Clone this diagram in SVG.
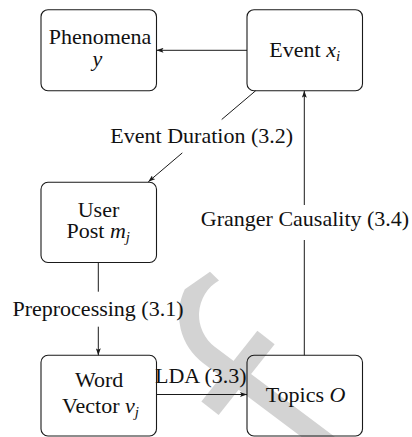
<svg xmlns="http://www.w3.org/2000/svg" width="412" height="437" viewBox="0 0 412 437">
<defs>
<marker id="arr" viewBox="0 0 7 5" refX="7" refY="2.5" markerWidth="7" markerHeight="5" orient="auto" markerUnits="userSpaceOnUse">
<path d="M0,0 L7,2.5 L0,5 L1.5,2.5 z" fill="#1a1a1a"/>
</marker>
</defs>
<rect width="412" height="437" fill="#fff"/>
<g id="watermark" fill="#d3d3d3">
<path d="M184.8,289.2 A60,60 0 0 0 203,363 L312.3,445 L345.7,445 L215,347 A40,40 0 0 1 219,280.4 L210,271.7 Z"/>
<line x1="266" y1="337.5" x2="210" y2="408.3" stroke="#d3d3d3" stroke-width="22"/>
</g>
<g id="connectors">
<g fill="none" stroke="#1a1a1a" stroke-width="1">
<line x1="247" y1="50.3" x2="156.5" y2="50.3" marker-end="url(#arr)"/>
<line x1="255.7" y1="90.7" x2="221.7" y2="119.5"/>
<line x1="182.3" y1="152.9" x2="148.3" y2="181.8" marker-end="url(#arr)"/>
<line x1="304.3" y1="355.3" x2="304.3" y2="240"/>
<line x1="304.3" y1="205" x2="304.3" y2="90.7" marker-end="url(#arr)"/>
<line x1="98.3" y1="262.5" x2="98.3" y2="291.7"/>
<line x1="98.3" y1="326.7" x2="98.3" y2="355.3" marker-end="url(#arr)"/>
<line x1="156.5" y1="394.5" x2="247" y2="394.5" marker-end="url(#arr)"/>
</g>
<text id="label-duration" x="201.7" y="142.7" font-family="Liberation Serif" font-size="22" fill="#111" text-anchor="middle">Event Duration (3.2)</text>
<text id="label-granger" x="305" y="226" font-family="Liberation Serif" font-size="22" fill="#111" text-anchor="middle">Granger Causality (3.4)</text>
<text id="label-pre" x="98" y="315.7" font-family="Liberation Serif" font-size="22" fill="#111" text-anchor="middle">Preprocessing (3.1)</text>
<text id="label-lda" x="200.8" y="382.7" font-family="Liberation Serif" font-size="22" fill="#111" text-anchor="middle">LDA (3.3)</text>
</g>
<g id="node-phenomena">
<rect x="41" y="9.7" width="115.5" height="81" rx="7" fill="none" stroke="#1a1a1a" stroke-width="1.1"/>
<text x="100" y="44.3" font-family="Liberation Serif" font-size="22" fill="#111" text-anchor="middle">Phenomena</text>
<text x="97.5" y="66" font-family="Liberation Serif" font-size="22" fill="#111" text-anchor="middle" font-style="italic">y</text>
</g>
<g id="node-event">
<rect x="247" y="9.7" width="115.5" height="81" rx="7" fill="none" stroke="#1a1a1a" stroke-width="1.1"/>
<text x="304.7" y="57.3" font-family="Liberation Serif" font-size="22" fill="#111" text-anchor="middle">Event <tspan font-style="italic">x</tspan><tspan font-style="italic" font-size="15" dy="4">i</tspan></text>
</g>
<g id="node-user">
<rect x="41" y="182.3" width="115.5" height="80.2" rx="7" fill="none" stroke="#1a1a1a" stroke-width="1.1"/>
<text x="98.5" y="216.7" font-family="Liberation Serif" font-size="22" fill="#111" text-anchor="middle">User</text>
<text x="98.3" y="238.3" font-family="Liberation Serif" font-size="22" fill="#111" text-anchor="middle">Post <tspan font-style="italic">m</tspan><tspan font-style="italic" font-size="15" dy="4">j</tspan></text>
</g>
<g id="node-word">
<rect x="41" y="355.3" width="115.5" height="80.7" rx="7" fill="none" stroke="#1a1a1a" stroke-width="1.1"/>
<text x="99.2" y="387.3" font-family="Liberation Serif" font-size="22" fill="#111" text-anchor="middle">Word</text>
<text x="100.5" y="413.3" font-family="Liberation Serif" font-size="22" fill="#111" text-anchor="middle">Vector <tspan font-style="italic">v</tspan><tspan font-style="italic" font-size="15" dy="4">j</tspan></text>
</g>
<g id="node-topics">
<rect x="247" y="355.3" width="115.5" height="80.7" rx="7" fill="none" stroke="#1a1a1a" stroke-width="1.1"/>
<text x="305.5" y="401.7" font-family="Liberation Serif" font-size="22" fill="#111" text-anchor="middle">Topics <tspan font-style="italic">O</tspan></text>
</g>
</svg>
